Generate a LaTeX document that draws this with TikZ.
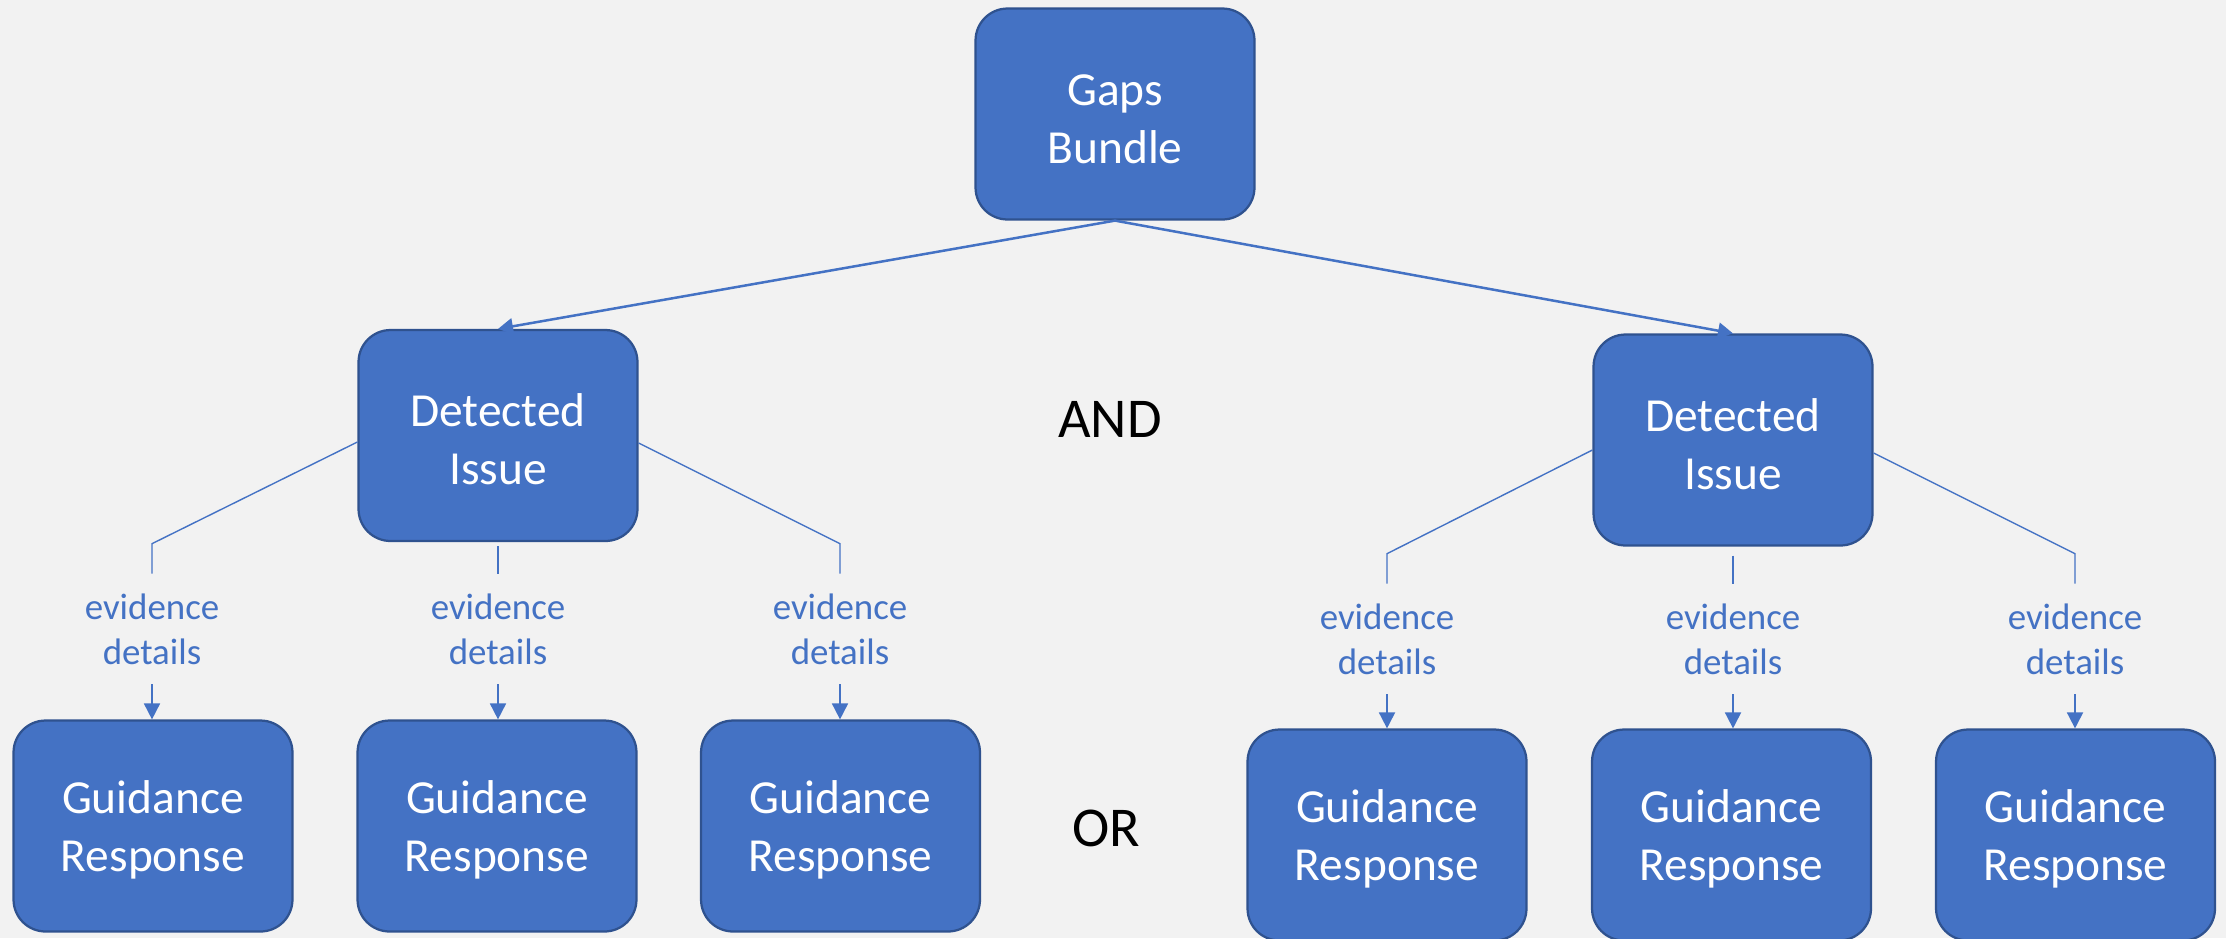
\documentclass[tikz,border=0pt]{standalone}
\usepackage{fontspec}
\setmainfont{Carlito}
\usetikzlibrary{arrows.meta}
\definecolor{bg}{HTML}{F2F2F2}
\definecolor{boxblue}{HTML}{4472C4}
\definecolor{boxedge}{HTML}{2F528F}
\newcommand{\topstrut}{\rule{0pt}{0.86em}}
\begin{document}
\begin{tikzpicture}[x=0.02cm,y=-0.02cm,
 box/.style={draw=boxedge, line width=0.045cm, fill=boxblue, rounded corners=0.64cm,
   minimum width=5.58cm, minimum height=4.22cm, text=white, align=center,
   font=\fontsize{27}{33}\selectfont, inner sep=0pt},
 evlabel/.style={text=boxblue, align=center, font=\fontsize{21}{25.6}\selectfont,
   minimum height=2.2cm, inner sep=0pt},
 mainarrow/.style={draw=boxblue, line width=0.05cm, -{Triangle[width=0.32cm,length=0.3cm]}},
 thinline/.style={draw=boxblue, line width=0.028cm},
 evarrow/.style={draw=boxblue, line width=0.035cm, -{Triangle[width=0.32cm,length=0.32cm]}},
 bigword/.style={font=\fontsize{32}{38}\selectfont, text=black}]
\useasboundingbox[fill=bg] (0,0) rectangle (2226,938);

% main boxes
\node[box] (gaps) at (1115,114) {\topstrut Gaps\\Bundle};
\node[box] (dil) at (498,435.5) {\topstrut Detected\\Issue};
\node[box] (dir) at (1733,440) {\topstrut Detected\\Issue};

% guidance boxes
\node[box] (g1) at (153,826) {\topstrut Guidance\\Response};
\node[box] (g2) at (497,826) {\topstrut Guidance\\Response};
\node[box] (g3) at (840.5,826) {\topstrut Guidance\\Response};
\node[box] (g4) at (1387,835) {\topstrut Guidance\\Response};
\node[box] (g5) at (1731.5,835) {\topstrut Guidance\\Response};
\node[box] (g6) at (2075.5,835) {\topstrut Guidance\\Response};

% evidence labels
\node[evlabel] (e1) at (152,629) {evidence\\details};
\node[evlabel] (e2) at (498,629) {evidence\\details};
\node[evlabel] (e3) at (840,629) {evidence\\details};
\node[evlabel] (e4) at (1387,639) {evidence\\details};
\node[evlabel] (e5) at (1733,639) {evidence\\details};
\node[evlabel] (e6) at (2075,639) {evidence\\details};

% AND / OR
\node[bigword] (and) at (1110,419) {AND};
\node[bigword] (or) at (1106,828) {OR};

% top arrows
\draw[mainarrow] (gaps.south) -- (dil.north);
\draw[mainarrow] (gaps.south) -- (dir.north);

% left group connectors
\draw[thinline] ([yshift=-0.13cm]dil.west) -- ([yshift=0.6cm]e1.north) -- (e1.north);
\draw[thinline] ([yshift=-0.08cm]dil.south) -- (e2.north);
\draw[thinline] ([yshift=-0.15cm]dil.east) -- ([yshift=0.6cm]e3.north) -- (e3.north);
\draw[evarrow] (e1.south) -- (e1.south |- g1.north);
\draw[evarrow] (e2.south) -- (e2.south |- g2.north);
\draw[evarrow] (e3.south) -- (e3.south |- g3.north);

% right group connectors
\draw[thinline] ([yshift=-0.2cm]dir.west) -- ([yshift=0.6cm]e4.north) -- (e4.north);
\draw[thinline] ([yshift=-0.18cm]dir.south) -- (e5.north);
\draw[thinline] ([yshift=-0.26cm]dir.east) -- ([yshift=0.6cm]e6.north) -- (e6.north);
\draw[evarrow] (e4.south) -- (e4.south |- g4.north);
\draw[evarrow] (e5.south) -- (e5.south |- g5.north);
\draw[evarrow] (e6.south) -- (e6.south |- g6.north);
\end{tikzpicture}
\end{document}
